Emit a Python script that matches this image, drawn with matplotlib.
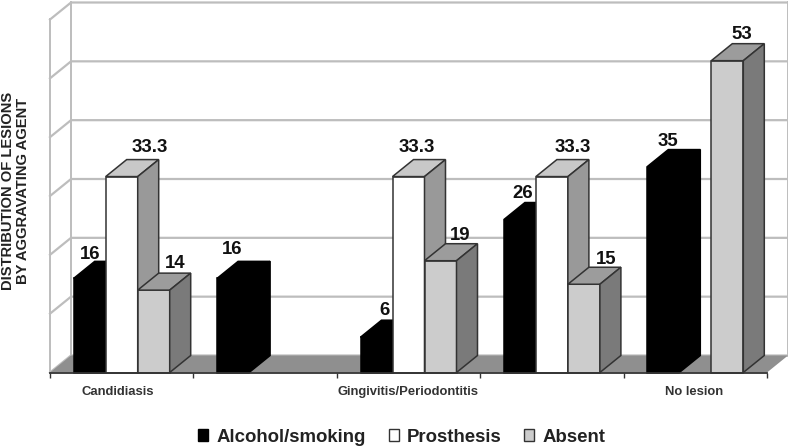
import numpy as np
import matplotlib
matplotlib.use("Agg")
import matplotlib.pyplot as plt
from matplotlib.patches import Patch, Polygon

plt.rcParams["font.family"] = ["Liberation Sans", "DejaVu Sans"]
plt.rcParams["font.weight"] = "bold"

# data, nan means no bar in that slot
category_labels = ["Candidiasis", "", "Gingivitis/Periodontitis", "", "No lesion"]
series_names = ["Alcohol/smoking", "Prosthesis", "Absent"]
alcohol = [16, 16, 6, 26, 35]
prosthesis = [33.3, np.nan, 33.3, 33.3, np.nan]
absent = [14, np.nan, 19, 15, 53]
y_ticks = [0, 10, 20, 30, 40, 50, 60]

FIG_W, FIG_H = 788, 448
LEFT, RIGHT, BOTTOM, TOP = 50, 767, 372.5, 19.5
DEPTH_X, DEPTH_Y = 21, 17  # pixels of fake 3d depth
BAR_PX = 32

# (front, top, side) colours for each series
bar_colors = [
    ("#000000", "#000000", "#000000"),
    ("#ffffff", "#c8c8c8", "#999999"),
    ("#cccccc", "#9c9c9c", "#7a7a7a"),
]
edge_colors = ["#000000", "#333333", "#333333"]
# pixel nudges of the value labels, (dx, baseline above front top)
label_nudges = [
    [(0, 19), (-1, 24), (8, 22), (3, 22), (5, 21)],
    [(28, 25), None, (8, 25), (21, 25), None],
    [(21, 22), None, (20, 21), (22, 20), (15, 22)],
]
# the category labels do not sit quite on the group centre
category_nudges = [-4, 0, 0, 0, -1]
GRID = "#bdbdbd"
FLOOR = "#8f8f8f"
DARK = "#333333"


def main():
    fig = plt.figure(figsize=(FIG_W / 100, FIG_H / 100), dpi=100)
    ax = fig.add_axes([
        LEFT / FIG_W,
        1 - BOTTOM / FIG_H,
        (RIGHT - LEFT) / FIG_W,
        (BOTTOM - TOP) / FIG_H,
    ])
    ax.set_xlim(-0.5, 4.5)
    ax.set_ylim(0, 60)
    ax.patch.set_visible(False)
    for spine in ax.spines.values():
        spine.set_visible(False)

    x_per_px = 5 / (RIGHT - LEFT)
    y_per_px = 60 / (BOTTOM - TOP)
    dx = DEPTH_X * x_per_px
    dy = DEPTH_Y * y_per_px
    bar_w = BAR_PX * x_per_px

    # floor and walls
    ax.add_patch(Polygon(
        [(-0.5, 0), (4.5, 0), (4.5 + dx, dy), (-0.5 + dx, dy)],
        facecolor=FLOOR, edgecolor="none", clip_on=False, zorder=1,
    ))
    for tick in y_ticks:
        ax.plot([-0.5, -0.5 + dx, 4.5 + dx], [tick, tick + dy, tick + dy],
                color=GRID, lw=1.6, clip_on=False, zorder=0.5)
    ax.plot([-0.5, -0.5], [0, 60], color=GRID, lw=1.4, clip_on=False, zorder=0.5)
    ax.plot([-0.5 + dx, -0.5 + dx], [dy, 60 + dy], color=GRID, lw=1.4, clip_on=False, zorder=0.5)
    ax.plot([4.5 + dx, 4.5 + dx], [dy, 60 + dy], color=GRID, lw=1.4, clip_on=False, zorder=0.5)

    # bars, left to right so each covers the side of the previous one
    all_series = [alcohol, prosthesis, absent]
    order = 2
    for i in range(len(category_labels)):
        for s, values in enumerate(all_series):
            v = values[i]
            if np.isnan(v):
                continue
            x0 = i + (s - 1.5) * bar_w
            x1 = x0 + bar_w
            front, top, side = bar_colors[s]
            faces = [
                ([(x0, 0), (x1, 0), (x1, v), (x0, v)], front),
                ([(x0, v), (x1, v), (x1 + dx, v + dy), (x0 + dx, v + dy)], top),
                ([(x1, 0), (x1 + dx, dy), (x1 + dx, v + dy), (x1, v)], side),
            ]
            for pts, color in faces:
                ax.add_patch(Polygon(pts, facecolor=color, edgecolor=edge_colors[s],
                                     lw=1.1, joinstyle="miter", clip_on=False, zorder=order))
            nudge_x, nudge_y = label_nudges[s][i]
            ax.text(x0 + bar_w / 2 + nudge_x * x_per_px, v + nudge_y * y_per_px,
                    str(v), ha="center", va="baseline", fontsize=13.4,
                    color="#111111", clip_on=False, zorder=20)
            order += 1

    # category axis
    ax.plot([-0.5, 4.5], [0, 0], color=DARK, lw=1.3, clip_on=False, zorder=15)
    ax.set_xticks(np.arange(-0.5, 5, 1), labels=[""] * 6)
    ax.set_yticks([])
    ax.tick_params(axis="x", length=3.5, width=1, color=DARK, pad=0)
    for i, label in enumerate(category_labels):
        if label:
            ax.annotate(label, (i + category_nudges[i] * x_per_px, 0), xytext=(0, -13 * 0.72),
                        textcoords="offset points", ha="center", va="top", fontsize=9.4,
                        color=DARK, annotation_clip=False)

    fig.text(15.5 / FIG_W, 1 - 191 / FIG_H, "DISTRIBUTION OF LESIONS\nBY AGGRAVATING AGENT",
             rotation=90, ha="center", va="center", ma="center", fontsize=10.6,
             color="#222222", linespacing=1.05)

    handles = [
        Patch(facecolor=bar_colors[s][0], edgecolor=edge_colors[s], lw=1, label=series_names[s])
        for s in range(3)
    ]
    fig.legend(
        handles=handles, ncols=3, frameon=False, loc="center",
        bbox_to_anchor=(402 / FIG_W, 1 - 437 / FIG_H), fontsize=13.4,
        handlelength=0.55, handleheight=0.6, handletextpad=0.45, columnspacing=1.2,
        labelcolor="#222222",
    )
    fig.savefig("out.png", dpi=100)


if __name__ == "__main__":
    main()
